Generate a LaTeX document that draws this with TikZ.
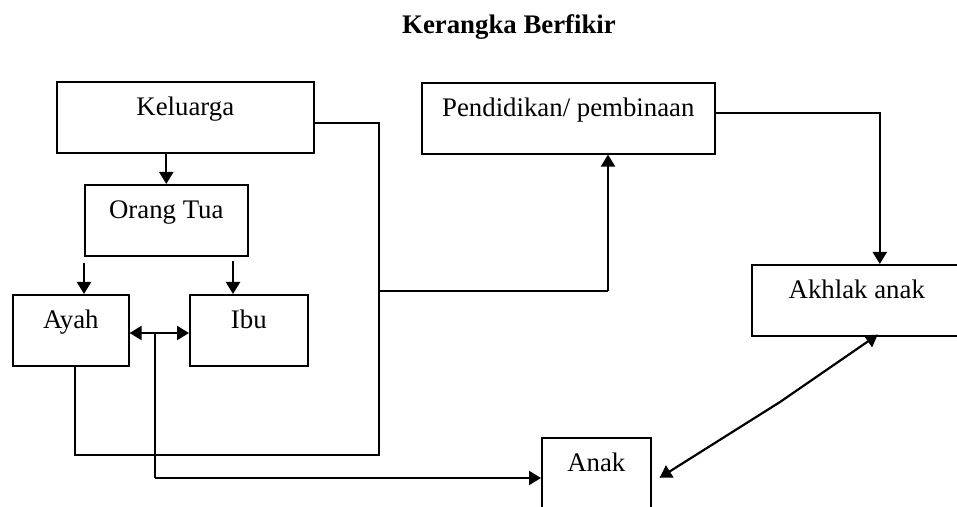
\documentclass[tikz,border=0pt]{standalone}
\usepackage{fontspec}
\setmainfont{Liberation Serif}
\usepackage{tikz}
\usetikzlibrary{arrows.meta,calc}

\begin{document}
\begin{tikzpicture}[x=0.5pt, y=-0.5pt,
  every node/.style={font=\fontsize{13.4}{16}\selectfont},
  kotak/.style={draw, line width=0.8pt, inner sep=0pt, anchor=north west,
    text height=17pt, text depth=18.5pt},
  garis/.style={line width=0.8pt},
  panah/.style={line width=1.1pt, -{Triangle[length=6pt,width=7pt]}},
  dua/.style={line width=1.1pt, {Triangle[length=6pt,width=7pt]}-{Triangle[length=6pt,width=7pt]}}]

  \useasboundingbox (0,0) rectangle (957,507);

  \node[anchor=base, font=\fontsize{13.4}{16}\selectfont\bfseries] (judul) at (509,34) {Kerangka Berfikir};

  %% kotak-kotak
  \node[kotak, minimum width=128.5pt] (keluarga) at (56,81) {Keluarga};
  \node[kotak, minimum width=81.5pt] (orangtua) at (84,184) {Orang Tua};
  \node[kotak, minimum width=58pt] (ayah) at (12,294) {Ayah};
  \node[kotak, minimum width=59pt] (ibu) at (189,294) {Ibu};
  \node[kotak, minimum width=146.5pt] (pendidikan) at (421,82) {Pendidikan/ pembinaan};
  \node[kotak, minimum width=105pt] (akhlak) at (751,264) {Akhlak anak};
  \node[kotak, minimum width=54.5pt] (anak) at (541,437) {Anak};

  \coordinate (kiri) at (84,263);
  \coordinate (kanan) at (233,261);
  \coordinate (sudut) at (379,455);
  \coordinate (cabang) at (379,291);
  \coordinate (belok) at (608,291);
  \coordinate (tengah) at (155,333);
  \coordinate (bawah) at (155,478);
  \coordinate (lekuk) at (780,402);

  \draw[panah] (keluarga.south -| orangtua.north) -- (orangtua.north); %% keluarga->orang tua
  \draw[panah] (kiri) -- (kiri |- ayah.north);
  \draw[panah] (kanan) -- (kanan |- ibu.north);

  \draw[garis] ($(keluarga.east)+(0,5.5)$) -| (sudut) -| ($(ayah.south)+(4,0)$);
  \draw[garis] (cabang) -- (belok);
  \draw[panah] (belok) -- (belok |- pendidikan.south); %% -> pendidikan
  \draw[panah] ($(pendidikan.east)+(0,-5.5)$) -| ($(akhlak.north)+(23,0)$); %% pendidikan->akhlak

  \draw[dua] (ayah.east |- tengah) -- (ibu.west |- tengah); %% ayah<->ibu
  \draw[garis] (tengah) -- (bawah);
  \draw[panah] (bawah) -- (bawah -| anak.west); %% -> anak

  \draw[dua] ($(anak.east)+(8,4.5)$) -- (lekuk) -- ($(akhlak.south)+(21,-2)$); %% anak<->akhlak
\end{tikzpicture}
\end{document}
